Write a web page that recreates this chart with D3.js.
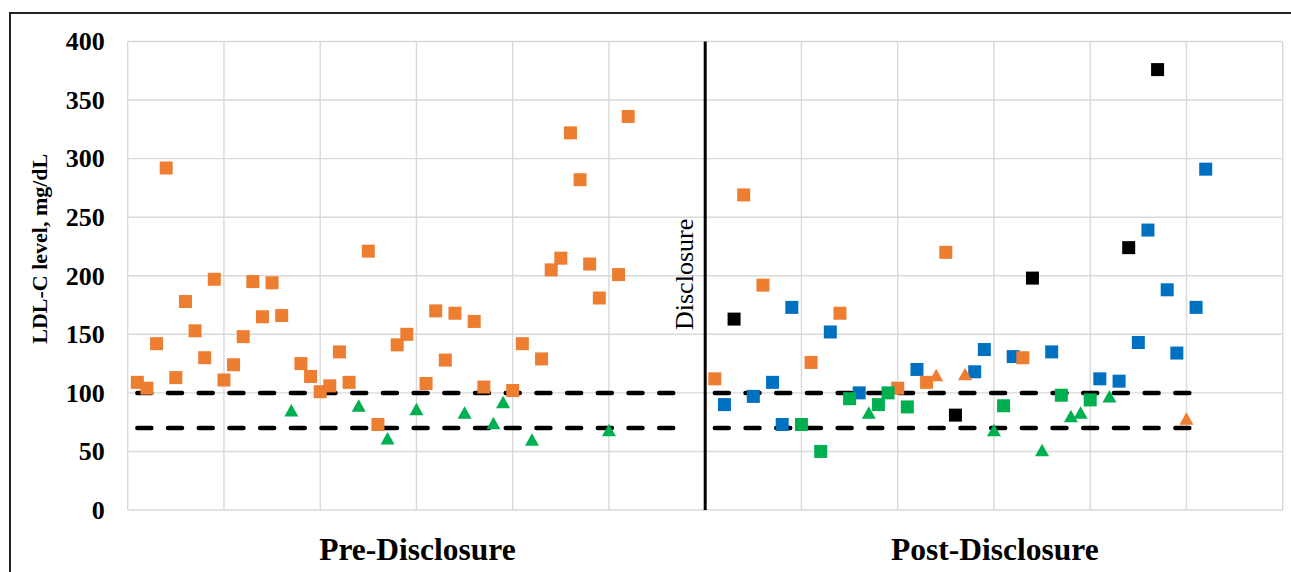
<!DOCTYPE html>
<html>
<head>
<meta charset="utf-8">
<script src="https://cdn.jsdelivr.net/npm/d3@7"></script>
<style>
  body { margin: 0; background: #fff; }
  svg { display: block; font-family: "Liberation Serif", "Times New Roman", serif; }
</style>
</head>
<body>
<svg id="chart" width="1291" height="572"></svg>
<script>
// [patient index, LDL-C mg/dL]
const preOrangeSquares = [
  [1, 109], [2, 104], [3, 142], [4, 292], [5, 113], [6, 178], [7, 153], [8, 130],
  [9, 197], [10, 111], [11, 124], [12, 148], [13, 195], [14, 165], [15, 194], [16, 166],
  [18, 125], [19, 114], [20, 101], [21, 106], [22, 135], [23, 109], [25, 221], [26, 73],
  [28, 141], [29, 150], [31, 108], [32, 170], [33, 128], [34, 168], [36, 161], [37, 105],
  [40, 102], [41, 142], [43, 129], [44, 205], [45, 215], [46, 322], [47, 282], [48, 210],
  [49, 181], [51, 201], [52, 336]
]
const preGreenTriangles = [
  [17, 85], [24, 89], [27, 61], [30, 86], [35, 83], [38, 74], [39, 92], [42, 60], [50, 68]
]
const postOrangeSquares = [
  [61, 112], [64, 269], [66, 192], [71, 126], [74, 168], [80, 104], [83, 109], [85, 220], [93, 130]
]
const postBlueSquares = [
  [62, 90], [65, 97], [67, 109], [68, 73], [69, 173], [73, 152], [76, 100], [82, 120],
  [88, 118], [89, 137], [92, 131], [96, 135], [101, 112], [103, 110], [105, 143], [106, 239],
  [108, 188], [109, 134], [111, 173], [112, 291]
]
const postBlackSquares = [[63, 163], [86, 81], [94, 198], [104, 224], [107, 376]]
const postGreenSquares = [
  [70, 73], [72, 50], [75, 95], [78, 90], [79, 100], [81, 88], [91, 89], [97, 98], [100, 94]
]
const postGreenTriangles = [[77, 83], [90, 68], [95, 51], [98, 80], [99, 83], [102, 97]]
const postOrangeTriangles = [[84, 115], [87, 116], [110, 78]]

const targetLevels = [100, 70]
const targetSpans = [[1, 58], [61, 111]]
const disclosureAt = 60
const yTicks = [0, 50, 100, 150, 200, 250, 300, 350, 400]
const xGrid = d3.range(0, 121, 10)
const periodLabels = [["Pre-Disclosure", 0, 60], ["Post-Disclosure", 60, 120]]

const colors = { orange: "#ED7D31", blue: "#0070C0", black: "#000000", green: "#00B050" }

const svg = d3.select("#chart")
const x = d3.scaleLinear().domain([0, 120]).range([127.7, 1282.7])
const y = d3.scaleLinear().domain([0, 400]).range([510, 41.5])

// outer frame (runs off the right and bottom edges)
svg.append("path")
  .attr("d", "M10,600 L10,13 L1300,13")
  .attr("fill", "none")
  .attr("stroke", "#222")
  .attr("stroke-width", 2)

// gridlines
const grid = svg.append("g").attr("stroke", "#d9d9d9").attr("stroke-width", 1.4)
grid.selectAll("line.h")
  .data(yTicks)
  .enter().append("line")
  .attr("x1", x(0)).attr("x2", x(120))
  .attr("y1", d => y(d)).attr("y2", d => y(d))
grid.selectAll("line.v")
  .data(xGrid)
  .enter().append("line")
  .attr("x1", d => x(d)).attr("x2", d => x(d))
  .attr("y1", y(0)).attr("y2", y(400))

// y axis labels
const yAxis = svg.append("g")
  .attr("transform", `translate(${x(0) - 23},0)`)
  .call(d3.axisLeft(y).tickValues(yTicks).tickSize(0).tickPadding(0))
yAxis.select(".domain").remove()
yAxis.selectAll("text")
  .attr("font-family", "'Liberation Serif', 'Times New Roman', serif")
  .attr("font-size", 26)
  .attr("font-weight", "bold")
  .attr("fill", "#000")

svg.append("text")
  .attr("transform", `translate(47,${(y(0) + y(400)) / 2 - 27}) rotate(-90)`)
  .attr("text-anchor", "middle")
  .attr("font-size", 22)
  .attr("font-weight", "bold")
  .text("LDL-C level, mg/dL")

// target lines
targetLevels.forEach(level => {
  svg.append("g").selectAll("line")
    .data(targetSpans)
    .enter().append("line")
    .attr("x1", d => x(d[0])).attr("x2", d => x(d[1]))
    .attr("y1", y(level)).attr("y2", y(level))
    .attr("stroke", "#000")
    .attr("stroke-width", 4.5)
    .attr("stroke-linecap", "round")
    .attr("stroke-dasharray", "14 16.7")
})

// disclosure line
svg.append("line")
  .attr("x1", x(disclosureAt)).attr("x2", x(disclosureAt))
  .attr("y1", y(400)).attr("y2", y(0))
  .attr("stroke", "#000")
  .attr("stroke-width", 3)
svg.append("text")
  .attr("transform", `translate(${x(disclosureAt) - 12},330) rotate(-90)`)
  .attr("font-size", 26)
  .text("Disclosure")

// markers
const sq = 13
function squares(data, color) {
  svg.append("g").selectAll("rect")
    .data(data)
    .enter().append("rect")
    .attr("x", d => x(d[0]) - sq / 2)
    .attr("y", d => y(d[1]) - sq / 2)
    .attr("width", sq)
    .attr("height", sq)
    .attr("fill", color)
}
function triangles(data, color) {
  svg.append("g").selectAll("path")
    .data(data)
    .enter().append("path")
    .attr("d", d => {
      const cx = x(d[0]), cy = y(d[1])
      return `M${cx},${cy - 6.5} L${cx + 7},${cy + 6} L${cx - 7},${cy + 6} Z`
    })
    .attr("fill", color)
}

squares(preOrangeSquares, colors.orange)
triangles(preGreenTriangles, colors.green)
squares(postBlueSquares, colors.blue)
squares(postOrangeSquares, colors.orange)
squares(postBlackSquares, colors.black)
squares(postGreenSquares, colors.green)
triangles(postGreenTriangles, colors.green)
triangles(postOrangeTriangles, colors.orange)

// period labels
svg.append("g").selectAll("text")
  .data(periodLabels)
  .enter().append("text")
  .attr("x", d => (x(d[1]) + x(d[2])) / 2 + 1)
  .attr("y", 560)
  .attr("text-anchor", "middle")
  .attr("font-size", 31.5)
  .attr("font-weight", "bold")
  .text(d => d[0])
</script>
</body>
</html>
